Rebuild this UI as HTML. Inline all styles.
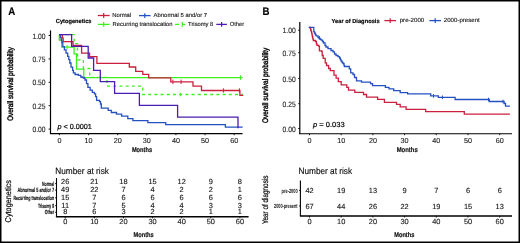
<!DOCTYPE html>
<html><head><meta charset="utf-8"><style>
html,body{margin:0;padding:0;background:#fff;}
svg{display:block;will-change:transform;}
text{font-family:"Liberation Sans",sans-serif;text-rendering:geometricPrecision;}
.r{stroke:#000;stroke-width:0.22px;}
.b{stroke:#000;stroke-width:0.15px;}
.t{stroke:#222;stroke-width:0.12px;}
</style></head><body>
<svg width="520" height="243" viewBox="0 0 520 243">
<rect width="520" height="243" fill="#fff"/>
<text x="8.3" y="15" font-size="10.8" text-anchor="start" font-weight="bold" class="b" textLength="7.0" lengthAdjust="spacingAndGlyphs" fill="#000" >A</text>
<text x="55.8" y="22.8" font-size="5.9" text-anchor="start" font-weight="bold" class="b" textLength="35.7" lengthAdjust="spacingAndGlyphs" fill="#000" >Cytogenetics</text>
<line x1="97.8" y1="15.5" x2="109.6" y2="15.5" stroke="#cc1f3c" stroke-width="1.3" />
<line x1="103.7" y1="13.1" x2="103.7" y2="17.9" stroke="#cc1f3c" stroke-width="1.2" />
<text x="112.2" y="17.3" font-size="5.9" text-anchor="start" class="t" textLength="19" lengthAdjust="spacingAndGlyphs" fill="#111" >Normal</text>
<line x1="139" y1="15.6" x2="150.6" y2="15.6" stroke="#2450c0" stroke-width="1.3" />
<line x1="144.8" y1="13.2" x2="144.8" y2="18.0" stroke="#2450c0" stroke-width="1.2" />
<text x="153.6" y="17.3" font-size="5.9" text-anchor="start" class="t" textLength="53.5" lengthAdjust="spacingAndGlyphs" fill="#111" >Abnormal 5 and/or 7</text>
<line x1="97.8" y1="24.4" x2="109.6" y2="24.4" stroke="#3cf01c" stroke-width="1.3" />
<line x1="103.7" y1="22.0" x2="103.7" y2="26.8" stroke="#3cf01c" stroke-width="1.2" />
<text x="112.6" y="26.2" font-size="5.9" text-anchor="start" class="t" textLength="60" lengthAdjust="spacingAndGlyphs" fill="#111" >Recurring translocation</text>
<line x1="175.1" y1="24.4" x2="179.1" y2="24.4" stroke="#3cf01c" stroke-width="1.3" />
<line x1="182.2" y1="24.4" x2="185.5" y2="24.4" stroke="#3cf01c" stroke-width="1.3" />
<line x1="182.3" y1="22.0" x2="182.3" y2="26.8" stroke="#3cf01c" stroke-width="1.2" />
<text x="188.1" y="26.2" font-size="5.9" text-anchor="start" class="t" textLength="25.2" lengthAdjust="spacingAndGlyphs" fill="#111" >Trisomy 8</text>
<line x1="216.3" y1="24.4" x2="226.9" y2="24.4" stroke="#4a1cb4" stroke-width="1.3" />
<line x1="221.6" y1="22.0" x2="221.6" y2="26.8" stroke="#4a1cb4" stroke-width="1.2" />
<text x="229.8" y="26.2" font-size="5.9" text-anchor="start" class="t" textLength="14.4" lengthAdjust="spacingAndGlyphs" fill="#111" >Other</text>
<text transform="translate(13.1,120.8) rotate(-90)" font-size="8" class="r" style="stroke-width:0.4px" textLength="73.6" lengthAdjust="spacingAndGlyphs" fill="#111">Overall survival probability</text>
<line x1="50.5" y1="30.4" x2="50.5" y2="134" stroke="#000" stroke-width="1.2" />
<line x1="50" y1="133.6" x2="242.5" y2="133.6" stroke="#000" stroke-width="1.2" />
<line x1="48.6" y1="35.5" x2="50.5" y2="35.5" stroke="#000" stroke-width="0.9" />
<text x="45.5" y="38.5" font-size="7.7" text-anchor="end" class="t" textLength="13.1" lengthAdjust="spacingAndGlyphs" fill="#222" >1.00</text>
<line x1="48.6" y1="58.9" x2="50.5" y2="58.9" stroke="#000" stroke-width="0.9" />
<text x="45.5" y="61.9" font-size="7.7" text-anchor="end" class="t" textLength="13.1" lengthAdjust="spacingAndGlyphs" fill="#222" >0.75</text>
<line x1="48.6" y1="82.3" x2="50.5" y2="82.3" stroke="#000" stroke-width="0.9" />
<text x="45.5" y="85.3" font-size="7.7" text-anchor="end" class="t" textLength="13.1" lengthAdjust="spacingAndGlyphs" fill="#222" >0.50</text>
<line x1="48.6" y1="105.7" x2="50.5" y2="105.7" stroke="#000" stroke-width="0.9" />
<text x="45.5" y="108.7" font-size="7.7" text-anchor="end" class="t" textLength="13.1" lengthAdjust="spacingAndGlyphs" fill="#222" >0.25</text>
<line x1="48.6" y1="129.1" x2="50.5" y2="129.1" stroke="#000" stroke-width="0.9" />
<text x="45.5" y="132.1" font-size="7.7" text-anchor="end" class="t" textLength="13.1" lengthAdjust="spacingAndGlyphs" fill="#222" >0.00</text>
<line x1="59.4" y1="133.6" x2="59.4" y2="135.2" stroke="#000" stroke-width="0.9" />
<text x="59.4" y="142.7" font-size="7.2" text-anchor="middle" class="t" fill="#222" >0</text>
<line x1="88.53" y1="133.6" x2="88.53" y2="135.2" stroke="#000" stroke-width="0.9" />
<text x="88.53" y="142.7" font-size="7.2" text-anchor="middle" class="t" fill="#222" >10</text>
<line x1="117.66" y1="133.6" x2="117.66" y2="135.2" stroke="#000" stroke-width="0.9" />
<text x="117.66" y="142.7" font-size="7.2" text-anchor="middle" class="t" fill="#222" >20</text>
<line x1="146.79" y1="133.6" x2="146.79" y2="135.2" stroke="#000" stroke-width="0.9" />
<text x="146.79" y="142.7" font-size="7.2" text-anchor="middle" class="t" fill="#222" >30</text>
<line x1="175.92" y1="133.6" x2="175.92" y2="135.2" stroke="#000" stroke-width="0.9" />
<text x="175.92" y="142.7" font-size="7.2" text-anchor="middle" class="t" fill="#222" >40</text>
<line x1="205.05" y1="133.6" x2="205.05" y2="135.2" stroke="#000" stroke-width="0.9" />
<text x="205.05" y="142.7" font-size="7.2" text-anchor="middle" class="t" fill="#222" >50</text>
<line x1="234.18" y1="133.6" x2="234.18" y2="135.2" stroke="#000" stroke-width="0.9" />
<text x="234.18" y="142.7" font-size="7.2" text-anchor="middle" class="t" fill="#222" >60</text>
<text x="142" y="152.3" font-size="6.8" text-anchor="middle" font-weight="bold" class="b" textLength="20.2" lengthAdjust="spacingAndGlyphs" fill="#111" >Months</text>
<text class="r" x="57.5" y="129.2" font-size="7.2" fill="#111" textLength="34.4" lengthAdjust="spacingAndGlyphs"><tspan font-style="italic">p</tspan> &lt; 0.0001</text>
<path d="M59.3 34.6 V40.2 H61.6 V47.2 H74.1 V53.9 H76.5 V69.2 H83.8 V77.6 H242.6" fill="none" stroke="#3cf01c" stroke-width="1.3" />
<line x1="67.1" y1="45.0" x2="67.1" y2="49.4" stroke="#3cf01c" stroke-width="1" />
<line x1="240.5" y1="75.4" x2="240.5" y2="79.8" stroke="#3cf01c" stroke-width="1" />
<path d="M59.3 34.6 H74.1 V43.6 H77.5 V59.8 H83.4 V68.5 H89.7 V77.3 H107 V86.1 H142.8 V94.5 H243" fill="none" stroke="#3cf01c" stroke-width="1.3" stroke-dasharray="3 3.2"/>
<line x1="180.4" y1="92.6" x2="180.4" y2="96.4" stroke="#3cf01c" stroke-width="1" />
<path d="M59.3 34.6 H62.4 V38.2 H63.2 V41.7 H73 V45.4 H81.6 V53.2 H89.6 V56.7 H96.9 V63.3 H129.3 V67 H135.7 V71.3 H142.8 V74.4 H148.7 V77.9 H170.8 V81.8 H193 V86.1 H201.5 V90.5 H239.9 V95.3 H243.2" fill="none" stroke="#cc1f3c" stroke-width="1.3" />
<line x1="172.9" y1="79.6" x2="172.9" y2="84.0" stroke="#cc1f3c" stroke-width="1" />
<line x1="181.1" y1="79.6" x2="181.1" y2="84.0" stroke="#cc1f3c" stroke-width="1" />
<line x1="223.4" y1="88.3" x2="223.4" y2="92.7" stroke="#cc1f3c" stroke-width="1" />
<line x1="239.4" y1="88.3" x2="239.4" y2="92.7" stroke="#cc1f3c" stroke-width="1" />
<path d="M59.3 34.6 H60.3 V37.5 H61.2 V40 H62 V42.5 H62.8 V46.6 H64.4 V49.9 H66 V53.2 H67.7 V56.4 H68.8 V59.7 H69.8 V63 H71 V67.1 H72.6 V70.4 H73.4 V72.9 H75.1 V74.5 H78.4 V75.4 H80.8 V77 H82.2 V77.5 H84 V78.4 H85 V80 H86.5 V83.7 H87.9 V87.3 H90.1 V90.2 H92.3 V92.3 H94.4 V93.8 H95.6 V96.6 H96.6 V100.3 H99.5 V101.7 H100.5 V104 H101.3 V108.2 H108.2 V110.3 H111.3 V112.5 H116.5 V114.2 H121.6 V116.2 H127.8 V118.7 H132.9 V120.6 H147.9 V122.7 H165.7 V124.6 H225.4 V127.1 H242.7" fill="none" stroke="#2450c0" stroke-width="1.3" />
<path d="M59.3 34.6 H71.6 V46.3 H88.2 V58 H93.6 V70.4 H100.3 V81.7 H114.6 V93.3 H139.4 V105.3 H177.6 V117.2 H238 V128.3" fill="none" stroke="#4a1cb4" stroke-width="1.3" />
<text x="55.3" y="173.5" font-size="9.0" text-anchor="start" class="b" textLength="53.6" lengthAdjust="spacingAndGlyphs" fill="#111" >Number at risk</text>
<line x1="56.5" y1="178" x2="56.5" y2="217" stroke="#000" stroke-width="1.1" />
<line x1="55.9" y1="216.7" x2="248.6" y2="216.7" stroke="#000" stroke-width="1.5" />
<line x1="55" y1="183.6" x2="56.4" y2="183.6" stroke="#000" stroke-width="0.8" />
<text x="54.2" y="185.7" font-size="6.0" text-anchor="end" font-weight="bold" class="b" textLength="12.3" lengthAdjust="spacingAndGlyphs" fill="#111" >Normal</text>
<text x="65.2" y="184.2" font-size="7.4" text-anchor="middle" class="t" fill="#111" >26</text>
<text x="94.32" y="184.2" font-size="7.4" text-anchor="middle" class="t" fill="#111" >21</text>
<text x="123.44" y="184.2" font-size="7.4" text-anchor="middle" class="t" fill="#111" >18</text>
<text x="152.56" y="184.2" font-size="7.4" text-anchor="middle" class="t" fill="#111" >15</text>
<text x="181.68" y="184.2" font-size="7.4" text-anchor="middle" class="t" fill="#111" >12</text>
<text x="210.8" y="184.2" font-size="7.4" text-anchor="middle" class="t" fill="#111" >9</text>
<text x="239.92" y="184.2" font-size="7.4" text-anchor="middle" class="t" fill="#111" >8</text>
<line x1="55" y1="190.1" x2="56.4" y2="190.1" stroke="#000" stroke-width="0.8" />
<text x="54.2" y="192.2" font-size="6.0" text-anchor="end" font-weight="bold" class="b" textLength="36.8" lengthAdjust="spacingAndGlyphs" fill="#111" >Abnormal 5 and/or 7</text>
<text x="65.2" y="192.0" font-size="7.4" text-anchor="middle" class="t" fill="#111" >49</text>
<text x="94.32" y="192.0" font-size="7.4" text-anchor="middle" class="t" fill="#111" >22</text>
<text x="123.44" y="192.0" font-size="7.4" text-anchor="middle" class="t" fill="#111" >7</text>
<text x="152.56" y="192.0" font-size="7.4" text-anchor="middle" class="t" fill="#111" >4</text>
<text x="181.68" y="192.0" font-size="7.4" text-anchor="middle" class="t" fill="#111" >2</text>
<text x="210.8" y="192.0" font-size="7.4" text-anchor="middle" class="t" fill="#111" >2</text>
<text x="239.92" y="192.0" font-size="7.4" text-anchor="middle" class="t" fill="#111" >1</text>
<line x1="55" y1="197.8" x2="56.4" y2="197.8" stroke="#000" stroke-width="0.8" />
<text x="54.2" y="199.9" font-size="6.0" text-anchor="end" font-weight="bold" class="b" textLength="40.8" lengthAdjust="spacingAndGlyphs" fill="#111" >Recurring translocation</text>
<text x="65.2" y="200.0" font-size="7.4" text-anchor="middle" class="t" fill="#111" >15</text>
<text x="94.32" y="200.0" font-size="7.4" text-anchor="middle" class="t" fill="#111" >7</text>
<text x="123.44" y="200.0" font-size="7.4" text-anchor="middle" class="t" fill="#111" >6</text>
<text x="152.56" y="200.0" font-size="7.4" text-anchor="middle" class="t" fill="#111" >6</text>
<text x="181.68" y="200.0" font-size="7.4" text-anchor="middle" class="t" fill="#111" >6</text>
<text x="210.8" y="200.0" font-size="7.4" text-anchor="middle" class="t" fill="#111" >6</text>
<text x="239.92" y="200.0" font-size="7.4" text-anchor="middle" class="t" fill="#111" >6</text>
<line x1="55" y1="205.6" x2="56.4" y2="205.6" stroke="#000" stroke-width="0.8" />
<text x="54.2" y="207.7" font-size="6.0" text-anchor="end" font-weight="bold" class="b" textLength="16.3" lengthAdjust="spacingAndGlyphs" fill="#111" >Trisomy 8</text>
<text x="65.2" y="207.6" font-size="7.4" text-anchor="middle" class="t" fill="#111" >11</text>
<text x="94.32" y="207.6" font-size="7.4" text-anchor="middle" class="t" fill="#111" >7</text>
<text x="123.44" y="207.6" font-size="7.4" text-anchor="middle" class="t" fill="#111" >5</text>
<text x="152.56" y="207.6" font-size="7.4" text-anchor="middle" class="t" fill="#111" >4</text>
<text x="181.68" y="207.6" font-size="7.4" text-anchor="middle" class="t" fill="#111" >4</text>
<text x="210.8" y="207.6" font-size="7.4" text-anchor="middle" class="t" fill="#111" >3</text>
<text x="239.92" y="207.6" font-size="7.4" text-anchor="middle" class="t" fill="#111" >3</text>
<line x1="55" y1="212.3" x2="56.4" y2="212.3" stroke="#000" stroke-width="0.8" />
<text x="54.2" y="214.4" font-size="6.0" text-anchor="end" font-weight="bold" class="b" textLength="9.4" lengthAdjust="spacingAndGlyphs" fill="#111" >Other</text>
<text x="65.2" y="214.3" font-size="7.4" text-anchor="middle" class="t" fill="#111" >8</text>
<text x="94.32" y="214.3" font-size="7.4" text-anchor="middle" class="t" fill="#111" >6</text>
<text x="123.44" y="214.3" font-size="7.4" text-anchor="middle" class="t" fill="#111" >3</text>
<text x="152.56" y="214.3" font-size="7.4" text-anchor="middle" class="t" fill="#111" >2</text>
<text x="181.68" y="214.3" font-size="7.4" text-anchor="middle" class="t" fill="#111" >2</text>
<text x="210.8" y="214.3" font-size="7.4" text-anchor="middle" class="t" fill="#111" >1</text>
<text x="239.92" y="214.3" font-size="7.4" text-anchor="middle" class="t" fill="#111" >1</text>
<line x1="65.2" y1="216.7" x2="65.2" y2="218.3" stroke="#000" stroke-width="0.9" />
<text x="65.2" y="224.3" font-size="7.4" text-anchor="middle" class="t" fill="#222" >0</text>
<line x1="94.32" y1="216.7" x2="94.32" y2="218.3" stroke="#000" stroke-width="0.9" />
<text x="94.32" y="224.3" font-size="7.4" text-anchor="middle" class="t" fill="#222" >10</text>
<line x1="123.44" y1="216.7" x2="123.44" y2="218.3" stroke="#000" stroke-width="0.9" />
<text x="123.44" y="224.3" font-size="7.4" text-anchor="middle" class="t" fill="#222" >20</text>
<line x1="152.56" y1="216.7" x2="152.56" y2="218.3" stroke="#000" stroke-width="0.9" />
<text x="152.56" y="224.3" font-size="7.4" text-anchor="middle" class="t" fill="#222" >30</text>
<line x1="181.68" y1="216.7" x2="181.68" y2="218.3" stroke="#000" stroke-width="0.9" />
<text x="181.68" y="224.3" font-size="7.4" text-anchor="middle" class="t" fill="#222" >40</text>
<line x1="210.8" y1="216.7" x2="210.8" y2="218.3" stroke="#000" stroke-width="0.9" />
<text x="210.8" y="224.3" font-size="7.4" text-anchor="middle" class="t" fill="#222" >50</text>
<line x1="239.92" y1="216.7" x2="239.92" y2="218.3" stroke="#000" stroke-width="0.9" />
<text x="239.92" y="224.3" font-size="7.4" text-anchor="middle" class="t" fill="#222" >60</text>
<text x="143.6" y="237.2" font-size="6.8" text-anchor="middle" font-weight="bold" class="b" textLength="20.1" lengthAdjust="spacingAndGlyphs" fill="#111" >Months</text>
<text transform="translate(10.5,222.4) rotate(-90)" font-size="8.4" class="r" textLength="42.3" lengthAdjust="spacingAndGlyphs" fill="#111">Cytogenetics</text>
<text x="262.4" y="15" font-size="10.8" text-anchor="start" font-weight="bold" class="b" textLength="7.0" lengthAdjust="spacingAndGlyphs" fill="#000" >B</text>
<text x="331.5" y="22.7" font-size="5.9" text-anchor="start" font-weight="bold" class="b" textLength="48.1" lengthAdjust="spacingAndGlyphs" fill="#000" >Year of Diagnosis</text>
<line x1="384.4" y1="20.6" x2="396" y2="20.6" stroke="#cc1f3c" stroke-width="1.3" />
<line x1="390.2" y1="18.2" x2="390.2" y2="23.0" stroke="#cc1f3c" stroke-width="1.2" />
<text x="399.7" y="22.1" font-size="5.9" text-anchor="start" class="t" textLength="24.6" lengthAdjust="spacingAndGlyphs" fill="#111" >pre-2000</text>
<line x1="429.4" y1="20.6" x2="441" y2="20.6" stroke="#2450c0" stroke-width="1.3" />
<line x1="435.2" y1="18.2" x2="435.2" y2="23.0" stroke="#2450c0" stroke-width="1.2" />
<text x="443.8" y="22.1" font-size="5.9" text-anchor="start" class="t" textLength="36" lengthAdjust="spacingAndGlyphs" fill="#111" >2000-present</text>
<text transform="translate(267.9,123) rotate(-90)" font-size="8" class="r" style="stroke-width:0.4px" textLength="75.3" lengthAdjust="spacingAndGlyphs" fill="#111">Overall survival probability</text>
<line x1="299.8" y1="22" x2="299.8" y2="134" stroke="#000" stroke-width="1.2" />
<line x1="299.1" y1="133.8" x2="512" y2="133.8" stroke="#000" stroke-width="1.1" />
<line x1="298.2" y1="30.3" x2="299.8" y2="30.3" stroke="#000" stroke-width="0.9" />
<text x="295.7" y="33.3" font-size="7.7" text-anchor="end" class="t" textLength="13.1" lengthAdjust="spacingAndGlyphs" fill="#222" >1.00</text>
<line x1="298.2" y1="52.7" x2="299.8" y2="52.7" stroke="#000" stroke-width="0.9" />
<text x="295.7" y="55.7" font-size="7.7" text-anchor="end" class="t" textLength="13.1" lengthAdjust="spacingAndGlyphs" fill="#222" >0.75</text>
<line x1="298.2" y1="78.5" x2="299.8" y2="78.5" stroke="#000" stroke-width="0.9" />
<text x="295.7" y="81.5" font-size="7.7" text-anchor="end" class="t" textLength="13.1" lengthAdjust="spacingAndGlyphs" fill="#222" >0.50</text>
<line x1="298.2" y1="103.7" x2="299.8" y2="103.7" stroke="#000" stroke-width="0.9" />
<text x="295.7" y="106.7" font-size="7.7" text-anchor="end" class="t" textLength="13.1" lengthAdjust="spacingAndGlyphs" fill="#222" >0.25</text>
<line x1="298.2" y1="128.6" x2="299.8" y2="128.6" stroke="#000" stroke-width="0.9" />
<text x="295.7" y="131.6" font-size="7.7" text-anchor="end" class="t" textLength="13.1" lengthAdjust="spacingAndGlyphs" fill="#222" >0.00</text>
<line x1="309.5" y1="133.8" x2="309.5" y2="135.2" stroke="#000" stroke-width="0.9" />
<text x="309.5" y="142.8" font-size="7.2" text-anchor="middle" class="t" fill="#222" >0</text>
<line x1="341.2" y1="133.8" x2="341.2" y2="135.2" stroke="#000" stroke-width="0.9" />
<text x="341.2" y="142.8" font-size="7.2" text-anchor="middle" class="t" fill="#222" >10</text>
<line x1="372.9" y1="133.8" x2="372.9" y2="135.2" stroke="#000" stroke-width="0.9" />
<text x="372.9" y="142.8" font-size="7.2" text-anchor="middle" class="t" fill="#222" >20</text>
<line x1="404.6" y1="133.8" x2="404.6" y2="135.2" stroke="#000" stroke-width="0.9" />
<text x="404.6" y="142.8" font-size="7.2" text-anchor="middle" class="t" fill="#222" >30</text>
<line x1="436.3" y1="133.8" x2="436.3" y2="135.2" stroke="#000" stroke-width="0.9" />
<text x="436.3" y="142.8" font-size="7.2" text-anchor="middle" class="t" fill="#222" >40</text>
<line x1="468.0" y1="133.8" x2="468.0" y2="135.2" stroke="#000" stroke-width="0.9" />
<text x="468.0" y="142.8" font-size="7.2" text-anchor="middle" class="t" fill="#222" >50</text>
<line x1="499.7" y1="133.8" x2="499.7" y2="135.2" stroke="#000" stroke-width="0.9" />
<text x="499.7" y="142.8" font-size="7.2" text-anchor="middle" class="t" fill="#222" >60</text>
<text x="407.2" y="151.8" font-size="6.8" text-anchor="middle" font-weight="bold" class="b" textLength="21" lengthAdjust="spacingAndGlyphs" fill="#111" >Months</text>
<text class="r" x="313.1" y="127" font-size="7.2" fill="#111" textLength="31.5" lengthAdjust="spacingAndGlyphs"><tspan font-style="italic">p</tspan> = 0.033</text>
<path d="M308.8 27.4 H310.1 V28.4 H310.6 V30 H311.2 V31.6 H311.6 V33.2 H312 V35.2 H312.4 V37 H312.8 V38.8 H313.3 V40.5 H315.4 V41.5 H316.4 V44 H317 V45.3 H318.8 V46.3 H319.4 V50.8 H321.6 V51.3 H322.2 V55.5 H323.2 V58.4 H325.2 V62.9 H326.5 V65.5 H328.6 V68.5 H330.3 V70.6 H334 V75.2 H336.1 V78.1 H338.3 V81.6 H341.2 V84.8 H346.8 V87.3 H348.5 V90.2 H354.8 V92.3 H363.5 V94.5 H366.5 V97.2 H377.6 V99.4 H384.4 V102.4 H396.5 V104.3 H400.2 V106.9 H406.1 V109.3 H425.7 V111.7 H464.3 V114.1 H509.9" fill="none" stroke="#cc1f3c" stroke-width="1.3" />
<path d="M308.8 27.4 H313.8 V31.6 H314.5 V33 H315.2 V34.5 H316 V35.8 H318 V37.5 H319.3 V38.4 H320.2 V39.4 H321.2 V40.2 H322.5 V41.5 H323.5 V43 H325 V45.5 H326 V47 H328 V48.6 H331 V50.5 H333 V51.8 H334.5 V54 H336 V55.5 H338 V56.6 H339.5 V58 H340.3 V59.5 H341 V61 H342 V62.5 H343 V63.5 H344 V65.5 H344.5 V66.5 H347.6 V66.5 H349.3 V68.8 H350.7 V72.9 H353 V74.5 H354.5 V77.5 H356.5 V80.8 H361.5 V82.2 H370.5 V83.6 H372.5 V85.7 H385.4 V87.4 H389 V88.9 H393.7 V90.7 H400.2 V92.6 H407.6 V93.9 H430.7 V95.9 H438.3 V97.3 H455.1 V99.5 H489.3 V101.5 H504.1 V103.5 H505.5 V106.1 H509.9" fill="none" stroke="#2450c0" stroke-width="1.3" />
<line x1="319.3" y1="36.0" x2="319.3" y2="39.6" stroke="#2450c0" stroke-width="1" />
<line x1="433.5" y1="94.1" x2="433.5" y2="97.7" stroke="#2450c0" stroke-width="1" />
<line x1="442.4" y1="95.5" x2="442.4" y2="99.1" stroke="#2450c0" stroke-width="1" />
<line x1="488.5" y1="97.7" x2="488.5" y2="101.3" stroke="#2450c0" stroke-width="1" />
<line x1="503" y1="99.7" x2="503" y2="103.3" stroke="#2450c0" stroke-width="1" />
<text x="298.5" y="173.5" font-size="9.0" text-anchor="start" class="b" textLength="53.6" lengthAdjust="spacingAndGlyphs" fill="#111" >Number at risk</text>
<line x1="300.4" y1="180.6" x2="300.4" y2="216" stroke="#000" stroke-width="1.1" />
<line x1="299.9" y1="215.9" x2="512" y2="215.9" stroke="#000" stroke-width="1.5" />
<line x1="299" y1="190.5" x2="300.4" y2="190.5" stroke="#000" stroke-width="0.8" />
<text x="297.6" y="192.6" font-size="6.0" text-anchor="end" font-weight="bold" textLength="16.0" lengthAdjust="spacingAndGlyphs" fill="#111" >pre-2000</text>
<text x="309.5" y="193.1" font-size="7.4" text-anchor="middle" class="t" fill="#111" >42</text>
<text x="341.2" y="193.1" font-size="7.4" text-anchor="middle" class="t" fill="#111" >19</text>
<text x="372.9" y="193.1" font-size="7.4" text-anchor="middle" class="t" fill="#111" >13</text>
<text x="404.6" y="193.1" font-size="7.4" text-anchor="middle" class="t" fill="#111" >9</text>
<text x="436.3" y="193.1" font-size="7.4" text-anchor="middle" class="t" fill="#111" >7</text>
<text x="468.0" y="193.1" font-size="7.4" text-anchor="middle" class="t" fill="#111" >6</text>
<text x="499.7" y="193.1" font-size="7.4" text-anchor="middle" class="t" fill="#111" >6</text>
<line x1="299" y1="206" x2="300.4" y2="206" stroke="#000" stroke-width="0.8" />
<text x="297.6" y="208.1" font-size="6.0" text-anchor="end" font-weight="bold" textLength="23.6" lengthAdjust="spacingAndGlyphs" fill="#111" >2000-present</text>
<text x="309.5" y="208.6" font-size="7.4" text-anchor="middle" class="t" fill="#111" >67</text>
<text x="341.2" y="208.6" font-size="7.4" text-anchor="middle" class="t" fill="#111" >44</text>
<text x="372.9" y="208.6" font-size="7.4" text-anchor="middle" class="t" fill="#111" >26</text>
<text x="404.6" y="208.6" font-size="7.4" text-anchor="middle" class="t" fill="#111" >22</text>
<text x="436.3" y="208.6" font-size="7.4" text-anchor="middle" class="t" fill="#111" >19</text>
<text x="468.0" y="208.6" font-size="7.4" text-anchor="middle" class="t" fill="#111" >15</text>
<text x="499.7" y="208.6" font-size="7.4" text-anchor="middle" class="t" fill="#111" >13</text>
<line x1="309.5" y1="215.9" x2="309.5" y2="217.5" stroke="#000" stroke-width="0.9" />
<text x="309.5" y="224.2" font-size="7.4" text-anchor="middle" class="t" fill="#222" >0</text>
<line x1="341.2" y1="215.9" x2="341.2" y2="217.5" stroke="#000" stroke-width="0.9" />
<text x="341.2" y="224.2" font-size="7.4" text-anchor="middle" class="t" fill="#222" >10</text>
<line x1="372.9" y1="215.9" x2="372.9" y2="217.5" stroke="#000" stroke-width="0.9" />
<text x="372.9" y="224.2" font-size="7.4" text-anchor="middle" class="t" fill="#222" >20</text>
<line x1="404.6" y1="215.9" x2="404.6" y2="217.5" stroke="#000" stroke-width="0.9" />
<text x="404.6" y="224.2" font-size="7.4" text-anchor="middle" class="t" fill="#222" >30</text>
<line x1="436.3" y1="215.9" x2="436.3" y2="217.5" stroke="#000" stroke-width="0.9" />
<text x="436.3" y="224.2" font-size="7.4" text-anchor="middle" class="t" fill="#222" >40</text>
<line x1="468.0" y1="215.9" x2="468.0" y2="217.5" stroke="#000" stroke-width="0.9" />
<text x="468.0" y="224.2" font-size="7.4" text-anchor="middle" class="t" fill="#222" >50</text>
<line x1="499.7" y1="215.9" x2="499.7" y2="217.5" stroke="#000" stroke-width="0.9" />
<text x="499.7" y="224.2" font-size="7.4" text-anchor="middle" class="t" fill="#222" >60</text>
<text x="404.3" y="237.1" font-size="6.8" text-anchor="middle" font-weight="bold" class="b" textLength="20.2" lengthAdjust="spacingAndGlyphs" fill="#111" >Months</text>
<text transform="translate(267.5,224.1) rotate(-90)" font-size="8.4" class="r" textLength="48.5" lengthAdjust="spacingAndGlyphs" fill="#111">Year of diagnosis</text>
<rect x="0.75" y="0.75" width="518.5" height="241.5" fill="none" stroke="#000" stroke-width="1.5"/>
</svg>
</body></html>
